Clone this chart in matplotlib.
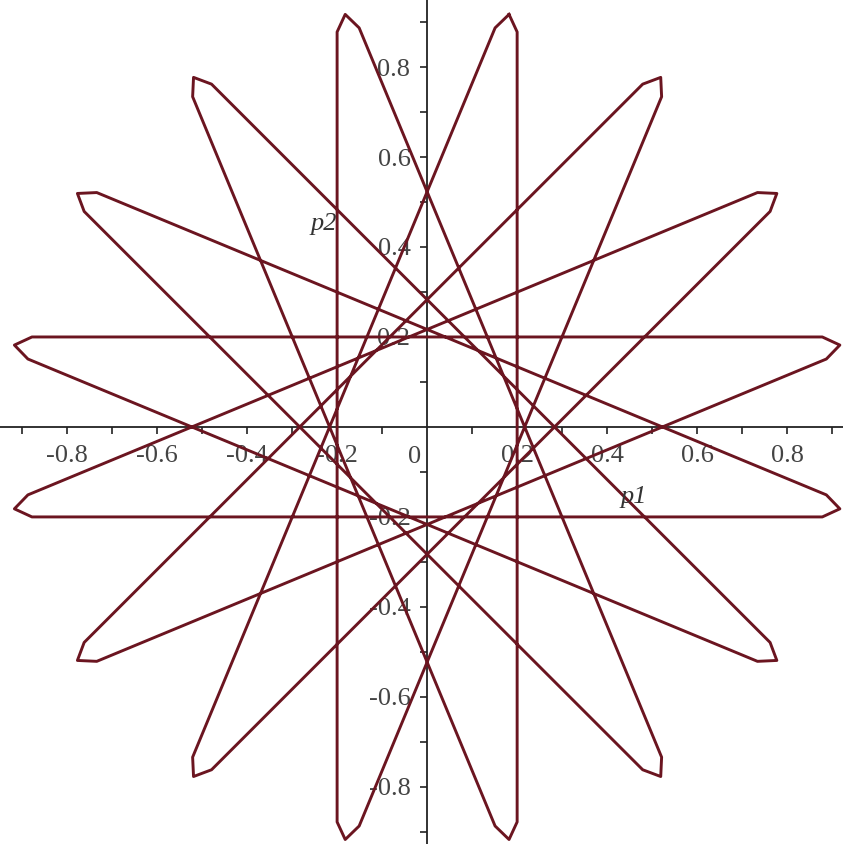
import matplotlib.pyplot as plt
from matplotlib.ticker import FixedLocator, FixedFormatter

# points of the star-shaped curve (p1, p2), in drawing order
# (tip, then the two ends of the straight stretch to the next tip)
p1 = [0.182, 0.200, 0.200, 0.182, 0.151, -0.521,
      -0.519, -0.479, 0.762, 0.777, 0.734, -0.887,
      -0.917, -0.878, 0.878, 0.917, 0.887, -0.734,
      -0.777, -0.762, 0.479, 0.519, 0.521, -0.151,
      -0.182, -0.200, -0.200, -0.182, -0.151, 0.521,
      0.519, 0.479, -0.762, -0.777, -0.734, 0.887,
      0.917, 0.878, -0.878, -0.917, -0.887, 0.734,
      0.777, 0.762, -0.479, -0.519, -0.521, 0.151]
p2 = [0.917, 0.878, -0.878, -0.917, -0.887, 0.734,
      0.777, 0.762, -0.479, -0.519, -0.521, 0.151,
      0.182, 0.200, 0.200, 0.182, 0.151, -0.521,
      -0.519, -0.479, 0.762, 0.777, 0.734, -0.887,
      -0.917, -0.878, 0.878, 0.917, 0.887, -0.734,
      -0.777, -0.762, 0.479, 0.519, 0.521, -0.151,
      -0.182, -0.200, -0.200, -0.182, -0.151, 0.521,
      0.519, 0.479, -0.762, -0.777, -0.734, 0.887]

major = [-0.8, -0.6, -0.4, -0.2, 0.2, 0.4, 0.6, 0.8]
major_labels = ['-0.8', '-0.6', '-0.4', '-0.2', '0.2', '0.4', '0.6', '0.8']
minor = [-0.9, -0.7, -0.5, -0.3, -0.1, 0.1, 0.3, 0.5, 0.7, 0.9]

plt.rcParams['font.family'] = ['Liberation Serif', 'DejaVu Serif']

fig = plt.figure(figsize=(8.43, 8.44), dpi=100)
ax = fig.add_axes([0, 0, 1, 1])

ax.plot(p1 + p1[:1], p2 + p2[:1], '-', color='#6b1520', lw=2.1, zorder=3,
        solid_joinstyle='round')

ax.set_xlim(-0.949, 0.924)
ax.set_ylim(-0.927, 0.949)

ax.spines['left'].set_position(('data', 0))
ax.spines['bottom'].set_position(('data', 0))
ax.spines['right'].set_visible(False)
ax.spines['top'].set_visible(False)
for s in ['left', 'bottom']:
    ax.spines[s].set_linewidth(1.3)
    ax.spines[s].set_color('#222222')
    ax.spines[s].set_zorder(2)

for axis in [ax.xaxis, ax.yaxis]:
    axis.set_major_locator(FixedLocator(major))
    axis.set_major_formatter(FixedFormatter(major_labels))
    axis.set_minor_locator(FixedLocator(minor))

ax.tick_params(which='both', direction='out', length=5, width=1.2, color='#222222')
ax.tick_params(axis='x', labelsize=19, labelcolor='#444444', pad=8)
ax.tick_params(axis='y', labelsize=19, labelcolor='#444444', pad=7)

ax.text(-0.027, -0.067, '0', fontsize=19, color='#444444', ha='center', va='center')
ax.text(0.46, -0.155, 'p1', fontsize=19, style='italic', color='#333333', ha='center', va='center')
ax.text(-0.23, 0.45, 'p2', fontsize=19, style='italic', color='#333333', ha='center', va='center')

fig.savefig('out.png', dpi=100)
